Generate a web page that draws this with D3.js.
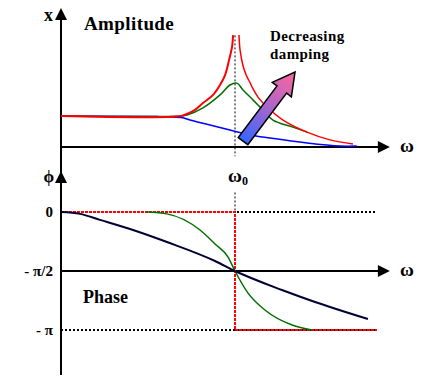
<!DOCTYPE html>
<html>
<head>
<meta charset="utf-8">
<script src="https://cdn.jsdelivr.net/npm/d3@7"></script>
<style>
  body { margin: 0; background: #fff; }
</style>
</head>
<body>
<svg id="chart" width="430" height="379"></svg>
<script>
// omega in units of omega0, amplitude in units of the static value
let redLow = [[0, 1], [0.69, 1.0], [0.72, 1.06], [0.77, 1.2], [0.816, 1.42], [0.874, 1.68],
  [0.914, 2.0], [0.943, 2.32], [0.966, 2.81], [0.983, 3.23], [0.989, 3.61]]
let redHigh = [[1.023, 3.61], [1.029, 3.13], [1.046, 2.62], [1.066, 2.3], [1.086, 2.08],
  [1.103, 1.88], [1.132, 1.61], [1.184, 1.29], [1.276, 0.87], [1.414, 0.48],
  [1.546, 0.23], [1.678, 0.10]]
let greenAmp = [[0, 1], [0.69, 1.0], [0.724, 1.03], [0.816, 1.26], [0.914, 1.68], [0.971, 2.0],
  [1.011, 2.06], [1.046, 1.84], [1.103, 1.52], [1.161, 1.19], [1.218, 0.87], [1.328, 0.65],
  [1.414, 0.48]]
let blueAmp = [[0, 1], [0.552, 0.98], [0.626, 0.97], [0.70, 0.94], [0.741, 0.87], [0.856, 0.71],
  [0.971, 0.55], [1.086, 0.39], [1.201, 0.29], [1.414, 0.13], [1.603, 0.03], [1.70, 0.03]]

// phase in radians
let navyPhase = [[0, 0], [0.109, -0.05], [0.224, -0.21], [0.414, -0.48], [0.609, -0.80],
  [0.885, -1.305], [1.0, -1.571], [1.27, -2.077], [1.46, -2.396], [1.764, -2.849]]
let greenPhase = [[0.494, 0], [0.609, -0.05], [0.799, -0.48], [0.885, -0.85], [0.96, -1.20],
  [1.0, -1.571], [1.075, -2.16], [1.172, -2.61], [1.328, -3.01], [1.443, -3.14]]
let redPhase = [[0, 0], [1, 0], [1, -Math.PI], [1.816, -Math.PI]]

let phaseTicks = [0, -Math.PI / 2, -Math.PI]
let phaseTickLabels = ['0', '- π/2', '- π']

// arrow "decreasing damping": from base to tip, in (omega, amplitude)
let dampArrow = [[1.046, 0.19], [1.345, 2.42]]

let serif = 'Liberation Serif'

let svg = d3.select('#chart')

let x = d3.scaleLinear().domain([0, 1]).range([61, 235])
let yA = d3.scaleLinear().domain([0, 1]).range([147, 116])
let yP = d3.scaleLinear().domain([-Math.PI, 0]).range([330, 212])

let xEnd = 1.89
let dotEnd = 1.816

let lineA = d3.line().x(d => x(d[0])).y(d => yA(d[1])).curve(d3.curveCatmullRom)
let lineP = d3.line().x(d => x(d[0])).y(d => yP(d[1])).curve(d3.curveMonotoneX)

// dotted reference lines
svg.append('line')
  .attr('x1', x(1)).attr('x2', x(1))
  .attr('y1', yA(3.6)).attr('y2', yA(-0.3))
  .attr('stroke', '#000').attr('stroke-width', 1).attr('stroke-dasharray', '2,2')
svg.append('line')
  .attr('x1', x(1)).attr('x2', x(1))
  .attr('y1', yP(0.52)).attr('y2', yP(0))
  .attr('stroke', '#000').attr('stroke-width', 1).attr('stroke-dasharray', '2,2')

phaseTicks.filter(v => v !== -Math.PI / 2).forEach(v => {
  svg.append('line')
    .attr('x1', x(0)).attr('x2', x(dotEnd))
    .attr('y1', yP(v)).attr('y2', yP(v))
    .attr('stroke', '#000').attr('stroke-width', 2).attr('stroke-dasharray', '2,2')
})

// red phase (undamped) step
svg.append('path')
  .datum(redPhase)
  .attr('fill', 'none')
  .attr('stroke', '#ff0000')
  .attr('stroke-width', 2)
  .attr('stroke-dasharray', '3,1')
  .attr('d', d3.line().x(d => x(d[0])).y(d => yP(d[1])))

// axes
svg.append('line')
  .attr('x1', x(0)).attr('x2', x(0)).attr('y1', 12).attr('y2', 375)
  .attr('stroke', '#000').attr('stroke-width', 2)
svg.append('line')
  .attr('x1', x(0)).attr('x2', x(xEnd) - 6).attr('y1', yA(0)).attr('y2', yA(0))
  .attr('stroke', '#000').attr('stroke-width', 2)
svg.append('line')
  .attr('x1', x(0)).attr('x2', x(xEnd) - 6).attr('y1', yP(-Math.PI / 2)).attr('y2', yP(-Math.PI / 2))
  .attr('stroke', '#000').attr('stroke-width', 2)

let upHead = (cx, tip) => `M${cx},${tip}L${cx + 6},${tip + 12}L${cx - 6},${tip + 12}Z`
let rightHead = (tip, cy) => `M${tip},${cy}L${tip - 12},${cy - 6}L${tip - 12},${cy + 6}Z`
svg.append('path').attr('d', upHead(x(0), 8)).attr('fill', '#000')
svg.append('path').attr('d', upHead(x(0), 171)).attr('fill', '#000')
svg.append('path').attr('d', rightHead(x(xEnd), yA(0))).attr('fill', '#000')
svg.append('path').attr('d', rightHead(x(xEnd), yP(-Math.PI / 2))).attr('fill', '#000')

// phase tick labels
let yAxis = svg.append('g')
  .attr('transform', `translate(${x(0)},0)`)
  .call(d3.axisLeft(yP).tickValues(phaseTicks)
    .tickFormat((d, i) => phaseTickLabels[i]).tickSize(0).tickPadding(8))
  .attr('font-family', serif)
  .attr('font-size', 15)
yAxis.select('.domain').remove()
yAxis.selectAll('text')
  .attr('font-weight', 'bold')
  .attr('fill', '#000')

// amplitude curves
svg.append('path').datum(blueAmp)
  .attr('fill', 'none').attr('stroke', '#0000ff').attr('stroke-width', 1.5).attr('d', lineA)
svg.append('path').datum(greenAmp)
  .attr('fill', 'none').attr('stroke', '#007000').attr('stroke-width', 1.5).attr('d', lineA)
svg.append('path').datum(redLow)
  .attr('fill', 'none').attr('stroke', '#ff0000').attr('stroke-width', 2).attr('d', lineA)
svg.append('path').datum(redHigh)
  .attr('fill', 'none').attr('stroke', '#ff0000').attr('stroke-width', 1.5).attr('d', lineA)

// phase curves
svg.append('path').datum(greenPhase)
  .attr('fill', 'none').attr('stroke', '#007000').attr('stroke-width', 1.5).attr('d', lineP)
svg.append('path').datum(navyPhase)
  .attr('fill', 'none').attr('stroke', '#000033').attr('stroke-width', 2).attr('d', lineP)

// damping arrow
let defs = svg.append('defs')
let p0 = [x(dampArrow[0][0]), yA(dampArrow[0][1])]
let p1 = [x(dampArrow[1][0]), yA(dampArrow[1][1])]
let grad = defs.append('linearGradient').attr('id', 'dampGrad')
  .attr('gradientUnits', 'userSpaceOnUse')
  .attr('x1', p0[0]).attr('y1', p0[1]).attr('x2', p1[0]).attr('y2', p1[1])
grad.append('stop').attr('offset', '0%').attr('stop-color', '#3366ff')
grad.append('stop').attr('offset', '50%').attr('stop-color', '#aa66cc')
grad.append('stop').attr('offset', '100%').attr('stop-color', '#ff6699')

let dx = p1[0] - p0[0], dy = p1[1] - p0[1]
let len = Math.hypot(dx, dy)
let ux = dx / len, uy = dy / len
let nx = -uy, ny = ux
let shaftW = 6, headW = 12, headL = 22
let hb = [p0[0] + ux * (len - headL), p0[1] + uy * (len - headL)]
let pts = [
  [p0[0] + nx * shaftW, p0[1] + ny * shaftW],
  [hb[0] + nx * shaftW, hb[1] + ny * shaftW],
  [hb[0] + nx * headW, hb[1] + ny * headW],
  p1,
  [hb[0] - nx * headW, hb[1] - ny * headW],
  [hb[0] - nx * shaftW, hb[1] - ny * shaftW],
  [p0[0] - nx * shaftW, p0[1] - ny * shaftW]
]
svg.append('path')
  .attr('d', 'M' + pts.map(p => p.join(',')).join('L') + 'Z')
  .attr('fill', 'url(#dampGrad)')
  .attr('stroke', '#000')
  .attr('stroke-width', 1.5)
  .attr('stroke-linejoin', 'miter')

// labels
let label = (tx, ty, str, size, anchor) => svg.append('text')
  .attr('x', tx).attr('y', ty)
  .attr('font-family', serif)
  .attr('font-weight', 'bold')
  .attr('font-size', size)
  .attr('text-anchor', anchor || 'start')
  .text(str)

label(84, 30, 'Amplitude', 19).attr('letter-spacing', 0.4)
label(83, 303, 'Phase', 18)
label(270, 41, 'Decreasing', 15).attr('letter-spacing', 0.4)
label(270, 59, 'damping', 15).attr('letter-spacing', 0.4)
label(53, 21, 'x', 18, 'end')
label(54, 182, 'ϕ', 17, 'end')
label(400, yA(0) + 5, 'ω', 19)
label(400, yP(-Math.PI / 2) + 5, 'ω', 19)
let w0 = label(228, 182, 'ω', 19)
w0.append('tspan').attr('font-size', 12).attr('dy', 3).text('0')
</script>
</body>
</html>
